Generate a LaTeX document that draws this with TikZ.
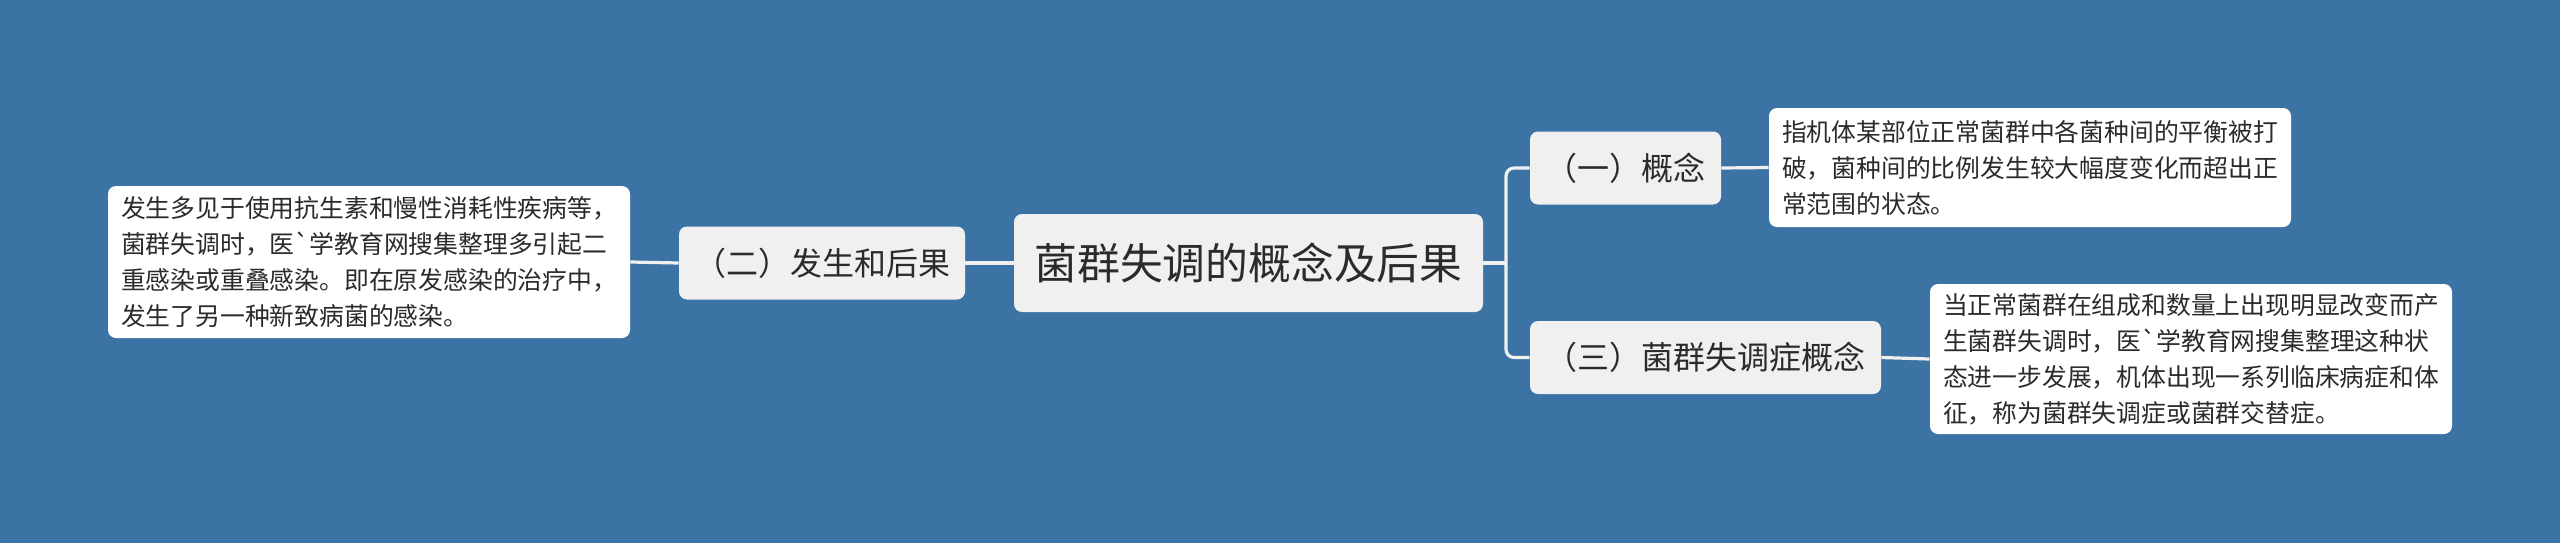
\documentclass[tikz,border=0pt]{standalone}
\usepackage{fontspec}
\newfontfamily\cjk{Noto Sans CJK SC}[Ligatures=TeXOff]
\definecolor{bgblue}{HTML}{3C73A5}
\definecolor{nodegray}{HTML}{F0F0F0}
\definecolor{inkgray}{HTML}{2B2B2B}

\begin{document}
\begin{tikzpicture}[x=0.5pt, y=-0.5pt,
                    every node/.style={text=inkgray, rounded corners=4pt, inner sep=0pt},
                    root/.style={fill=nodegray, minimum width=234.5pt, minimum height=49pt,
                                 font=\cjk\fontsize{21.4}{26}\selectfont},
                    topic/.style={fill=nodegray, minimum height=36.5pt,
                                  font=\cjk\fontsize{16}{20}\selectfont},
                    leaf/.style={fill=white, minimum width=261pt, align=left,
                                 font=\cjk\fontsize{12.4}{18}\selectfont},
                    link/.style={draw=nodegray, line width=1.6pt},
                ]
                \useasboundingbox (0,0) rectangle (2560,542);
                \fill[bgblue] (-6,-6) rectangle (2566,548);

                \node[root] (root) at (1248.5,263) {菌群失调的概念及后果};

                % left side
                \node[topic, minimum width=143pt] (cause) at (822,263) {（二）发生和后果};
                \node[leaf, minimum height=76pt] (causetxt) at (369,262)
                    {发生多见于使用抗生素和慢性消耗性疾病等，\\
                     菌群失调时，医`学教育网搜集整理多引起二\\
                     重感染或重叠感染。即在原发感染的治疗中，\\
                     发生了另一种新致病菌的感染。};

                % right side
                \node[topic, minimum width=95.5pt] (concept) at (1625.5,168) {（一）概念};
                \node[leaf, minimum height=59.5pt] (concepttxt) at (2030,167.5)
                    {指机体某部位正常菌群中各菌种间的平衡被打\\
                     破，菌种间的比例发生较大幅度变化而超出正\\
                     常范围的状态。};
                \node[topic, minimum width=175.5pt] (syndrome) at (1705.5,357.5) {（三）菌群失调症概念};
                \node[leaf, minimum height=75pt] (syndrometxt) at (2191,359)
                    {当正常菌群在组成和数量上出现明显改变而产\\
                     生菌群失调时，医`学教育网搜集整理这种状\\
                     态进一步发展，机体出现一系列临床病症和体\\
                     征，称为菌群失调症或菌群交替症。};

                \coordinate (fork) at (1506,263);
                \draw[link] (root.east) -- (fork);
                \draw[link, rounded corners=4pt] (fork) |- (concept.west);
                \draw[link, rounded corners=4pt] (fork) |- (syndrome.west);
                \draw[link] (root.west) -- (cause.east);
                \draw[link] (cause.west) -- (causetxt.east);
                \draw[link] (concept.east) -- (concepttxt.west);
                \draw[link] (syndrome.east) -- (syndrometxt.west);
                \end{tikzpicture}
\end{document}
